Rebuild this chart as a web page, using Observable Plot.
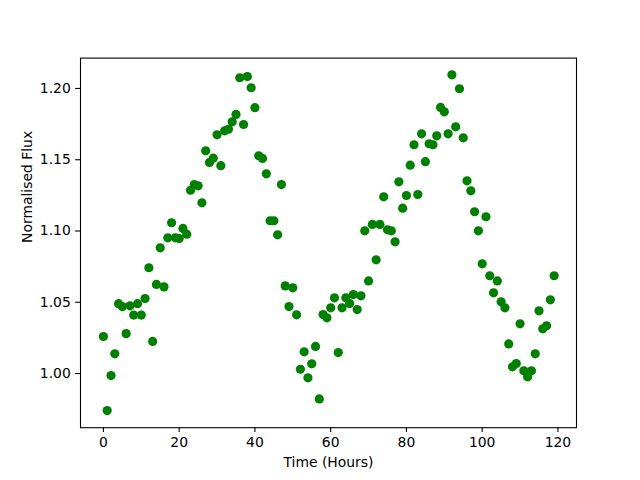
<!DOCTYPE html>
<html>
<head>
<meta charset="utf-8">
<script src="https://cdn.jsdelivr.net/npm/d3@7"></script>
<script src="https://cdn.jsdelivr.net/npm/@observablehq/plot@0.6"></script>
<style>
  html, body { margin: 0; padding: 0; background: white; }
</style>
</head>
<body>
<div id="chart"></div>
<script>
const hours = [
  0, 1, 2, 3, 4, 5, 6, 7, 8, 9,
  10, 11, 12, 13, 14, 15, 16, 17, 18, 19,
  20, 21, 22, 23, 24, 25, 26, 27, 28, 29,
  30, 31, 32, 33, 34, 35, 36, 37, 38, 39,
  40, 41, 42, 43, 44, 45, 46, 47, 48, 49,
  50, 51, 52, 53, 54, 55, 56, 57, 58, 59,
  60, 61, 62, 63, 64, 65, 66, 67, 68, 69,
  70, 71, 72, 73, 74, 75, 76, 77, 78, 79,
  80, 81, 82, 83, 84, 85, 86, 87, 88, 89,
  90, 91, 92, 93, 94, 95, 96, 97, 98, 99,
  100, 101, 102, 103, 104, 105, 106, 107, 108, 109,
  110, 111, 112, 113, 114, 115, 116, 117, 118, 119
];
const flux = [
  1.026, 0.974, 0.9986, 1.0138, 1.049, 1.047, 1.028, 1.0475, 1.041, 1.049,
  1.041, 1.0526, 1.0742, 1.0225, 1.0625, 1.0882, 1.0608, 1.0952, 1.1058, 1.0952,
  1.0947, 1.1018, 1.0978, 1.1286, 1.1326, 1.1317, 1.1198, 1.1563, 1.1481, 1.1511,
  1.1675, 1.1458, 1.1703, 1.1714, 1.1766, 1.1818, 1.2075, 1.1747, 1.2084, 1.2005,
  1.1865, 1.1528, 1.1509, 1.1401, 1.1072, 1.1072, 1.0973, 1.1326, 1.0615, 1.047,
  1.0601, 1.0412, 1.003, 1.0152, 0.997, 1.0068, 1.019, 0.9822, 1.0414, 1.0391,
  1.0461, 1.0531, 1.0147, 1.0461, 1.0531, 1.0491, 1.0554, 1.0449, 1.0545, 1.1001,
  1.065, 1.1046, 1.0798, 1.1046, 1.124, 1.1008, 1.1001, 1.0924, 1.1345, 1.116,
  1.1249, 1.1462, 1.1605, 1.1256, 1.1682, 1.1486, 1.1612, 1.1605, 1.1668, 1.1867,
  1.1836, 1.1682, 1.2096, 1.1731, 1.1998, 1.1654, 1.1352, 1.1282, 1.1135, 1.1001,
  1.077, 1.11, 1.0686, 1.0566, 1.065, 1.0503, 1.0461, 1.0208, 1.0047, 1.007,
  1.0349, 1.0019, 0.9977, 1.0019, 1.0138, 1.044, 1.0314, 1.0335, 1.0517, 1.0686
];
const xTicks = [0, 20, 40, 60, 80, 100, 120];
const yTicks = [1.00, 1.05, 1.10, 1.15, 1.20];
const xLabel = "Time (Hours)";
const yLabel = "Normalised Flux";

const data = hours.map((h, i) => ({hour: h, flux: flux[i]}));

const tickLen = 4.86;
const chart = Plot.plot({
  width: 640,
  height: 480,
  marginLeft: 80,
  marginRight: 64,
  marginTop: 57.6,
  marginBottom: 52.8,
  style: {fontFamily: "DejaVu Sans", fontSize: "13.9px", background: "white", color: "black"},
  x: {domain: [-6.05, 124.9]},
  y: {domain: [0.962, 1.2213]},
  marks: [
    Plot.dot(data, {x: "hour", y: "flux", r: 4.6, fill: "#008000", stroke: "none"}),
    Plot.frame({stroke: "black", strokeWidth: 1.1}),
    Plot.axisX({ticks: xTicks, tickSize: tickLen, tickPadding: 4.86, label: null, strokeWidth: 1.1, fontSize: 13.9}),
    Plot.axisY({ticks: yTicks, tickSize: tickLen, tickPadding: 4.86, label: null, strokeWidth: 1.1, fontSize: 13.9, tickFormat: d3.format(".2f")}),
    Plot.text([xLabel], {frameAnchor: "bottom", dy: 29.5, lineAnchor: "top", fontSize: 13.9, fill: "black"}),
    Plot.text([yLabel], {frameAnchor: "left", dx: -53, rotate: -90, lineAnchor: "middle", fontSize: 13.9, fill: "black"})
  ]
});
document.getElementById("chart").appendChild(chart);
</script>
</body>
</html>
